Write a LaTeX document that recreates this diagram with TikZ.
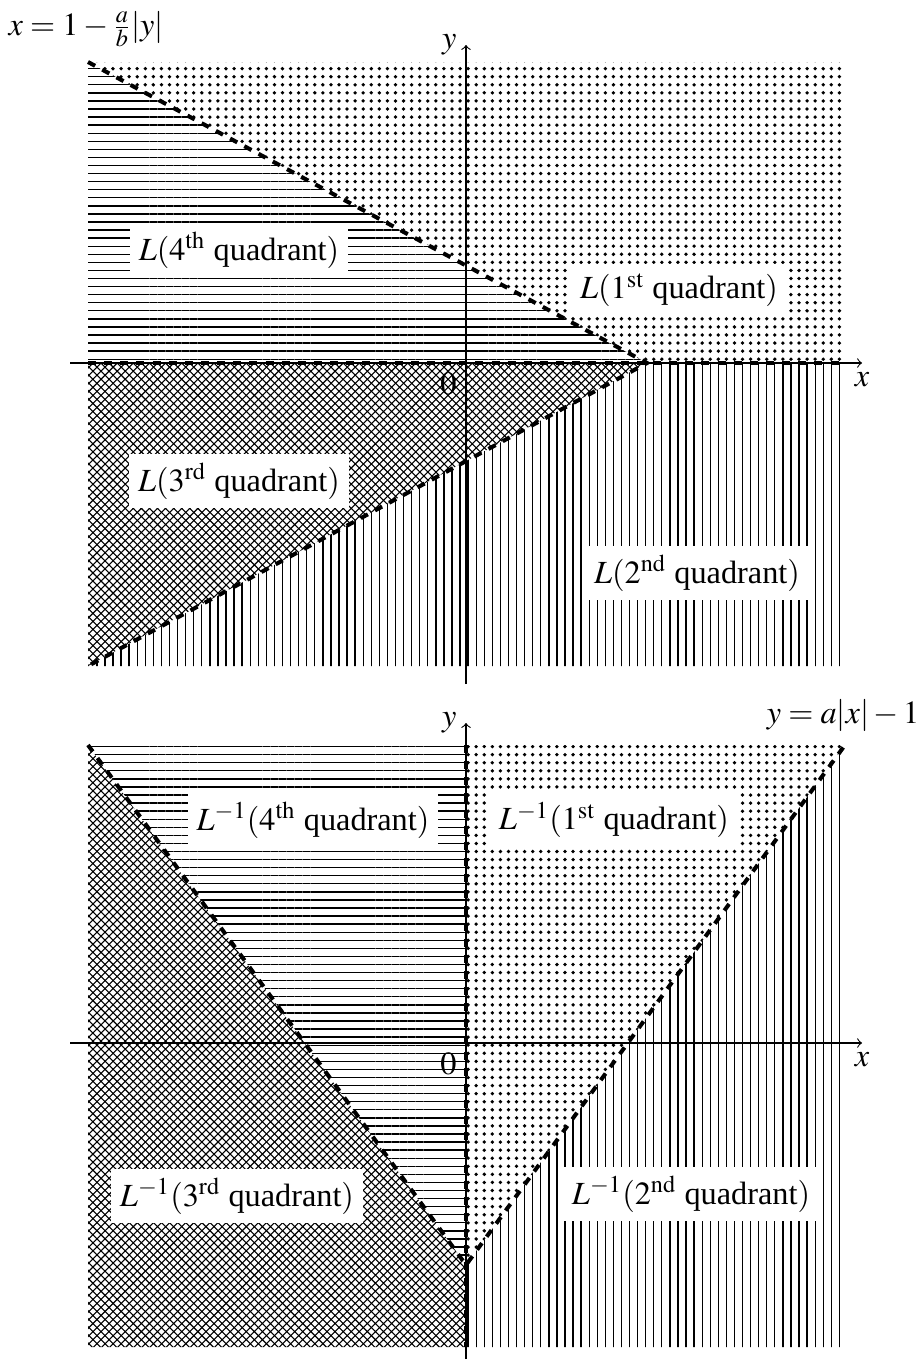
\documentclass[tikz,border=0pt]{standalone}
\usepackage{mathptmx}
\usepackage{fontspec}
\setmainfont{Liberation Serif}
\usetikzlibrary{patterns,patterns.meta}
\begin{document}
\begin{tikzpicture}[x=0.3717pt,y=-0.3717pt,
  every node/.style={font=\fontsize{12}{14.5}\selectfont},
  lbl/.style={fill=white},
  bnd/.style={line width=1.5pt,dashed},
  axis/.style={->,thin},
  pdots/.style={pattern={Dots[distance=3pt,radius=0.7pt]}},
  phl/.style={pattern={Lines[angle=0,distance=3pt,line width=0.5pt]}},
  pvl/.style={pattern={Lines[angle=90,distance=3pt,line width=0.5pt]}},
  pch/.style={pattern=crosshatch}]
\useasboundingbox (0,0) rectangle (922,1360);
% ---------- top plot ----------
\coordinate (TL) at (88,62);
\coordinate (TR) at (845,62);
\coordinate (BL) at (88,666);
\coordinate (BR) at (845,666);
\coordinate (A) at (647,363);
\coordinate (XL) at (88,363);
\coordinate (XR) at (845,363);
\fill[pdots] (TL) -- (TR) -- (XR) -- (A) -- cycle;
\fill[phl] (TL) -- (A) -- (XL) -- cycle;
\fill[pch] (XL) -- (A) -- (BL) -- cycle;
\fill[pvl] (BL) -- (A) -- (XR) -- (BR) -- cycle;
\coordinate (ax1) at (70,363);
\coordinate (ax2) at (862,363);
\coordinate (ay1) at (466,684);
\coordinate (ay2) at (466,45);
\draw[axis] (ax1) -- (ax2);
\draw[axis] (ay1) -- (ay2);
\draw[bnd] (TL) -- (A) -- (BL);
\draw[bnd] (XL) -- (XR);
\node[below] (xlab1) at (ax2) {$x$};
\node[left] (ylab1) at (ay2) {$y$};
\node[below left] (zero1) at (466,363) {$0$};
\node (eq1) at (86,29) {$x=1-\frac{a}{b}|y|$};
\node[lbl] (q1) at (679,290) {$L(1^{\mathrm{st}}$ quadrant$)$};
\node[lbl] (q4) at (239,250) {$L(4^{\mathrm{th}}$ quadrant$)$};
\node[lbl] (q3) at (239,481) {$L(3^{\mathrm{rd}}$ quadrant$)$};
\node[lbl] (q2) at (697,573) {$L(2^{\mathrm{nd}}$ quadrant$)$};
% ---------- bottom plot ----------
\coordinate (tl) at (88,745);
\coordinate (tr) at (845,745);
\coordinate (bl) at (88,1347);
\coordinate (br) at (845,1347);
\coordinate (v) at (466,1265);
\coordinate (tm) at (466,745);
\coordinate (bm) at (466,1347);
\fill[pdots] (tm) -- (tr) -- (v) -- cycle;
\fill[phl] (tl) -- (tm) -- (v) -- cycle;
\fill[pch] (tl) -- (v) -- (bm) -- (bl) -- cycle;
\fill[pvl] (v) -- (tr) -- (br) -- (bm) -- cycle;
\coordinate (bx1) at (70,1043);
\coordinate (bx2) at (862,1043);
\coordinate (by1) at (466,1359);
\coordinate (by2) at (466,723);
\draw[axis] (bx1) -- (bx2);
\draw[axis] (by1) -- (by2);
\draw[bnd] (tl) -- (v) -- (tr);
\draw[bnd] (tm) -- (bm);
\node[below] (xlab2) at (bx2) {$x$};
\node[left] (ylab2) at (by2) {$y$};
\node[below left] (zero2) at (466,1043) {$0$};
\node (eq2) at (843,716) {$y=a|x|-1$};
\node[lbl] (p4) at (313,820) {$L^{-1}(4^{\mathrm{th}}$ quadrant$)$};
\node[lbl] (p1) at (614,820) {$L^{-1}(1^{\mathrm{st}}$ quadrant$)$};
\node[lbl] (p3) at (237,1196) {$L^{-1}(3^{\mathrm{rd}}$ quadrant$)$};
\node[lbl] (p2) at (691,1194) {$L^{-1}(2^{\mathrm{nd}}$ quadrant$)$};
\end{tikzpicture}
\end{document}
